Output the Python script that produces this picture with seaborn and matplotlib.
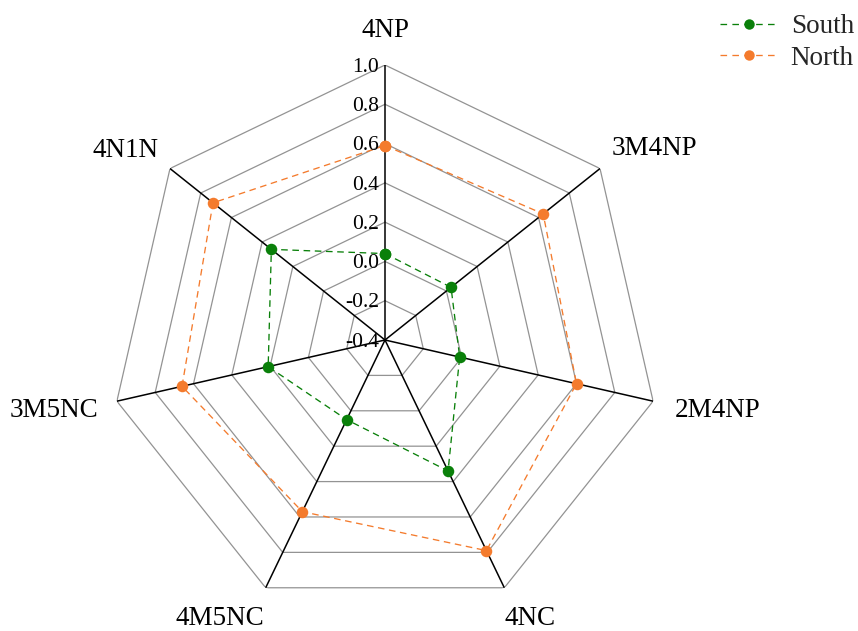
import numpy as np
import pandas as pd
import matplotlib
matplotlib.use("Agg")
import matplotlib.pyplot as plt
from matplotlib.lines import Line2D
import seaborn as sns

# Indicators around the radar, clockwise from the top
categories = ["4NP", "3M4NP", "2M4NP", "4NC", "4M5NC", "3M5NC", "4N1N"]
south = [0.04, 0.03, -0.01, 0.34, 0.05, 0.21, 0.34]
north = [0.59, 0.63, 0.60, 0.79, 0.57, 0.66, 0.72]
r_ticks = [-0.4, -0.2, 0.0, 0.2, 0.4, 0.6, 0.8, 1.0]
series_names = ["South", "North"]
colors = {"South": "#0a800a", "North": "#f47b2d"}

sns.set_theme(style="white")
plt.rcParams["font.family"] = ["Liberation Serif", "DejaVu Serif"]

n = len(categories)
angles = np.linspace(0, 2 * np.pi, n, endpoint=False)

fig = plt.figure(figsize=(8.58, 6.31), dpi=100)
ax = fig.add_axes([110 / 858, 16 / 631, 550 / 858, 550 / 631], projection="polar")
ax.set_theta_offset(np.pi / 2)
ax.set_theta_direction(-1)
ax.set_ylim(r_ticks[0], r_ticks[-1])
ax.grid(False)
ax.spines["polar"].set_visible(False)
ax.set_xticks([])
ax.set_yticks([])
ax.patch.set_alpha(0)

# polygonal grid rings
ring_theta = np.append(angles, angles[0])
for lvl in r_ticks[1:]:
    ax.plot(ring_theta, [lvl] * (n + 1), color="#939393", lw=0.9, zorder=1)

# spokes
for a in angles:
    ax.plot([a, a], [r_ticks[0], r_ticks[-1]], color="black", lw=1.1, zorder=2)

# data series, closed loops
rows = []
for name, vals in zip(series_names, [south, north]):
    for a, v in zip(list(angles) + [2 * np.pi], list(vals) + [vals[0]]):
        rows.append({"theta": a, "value": v, "region": name})
df = pd.DataFrame(rows)

for name in series_names:
    sub = df[df["region"] == name]
    sns.lineplot(data=sub, x="theta", y="value", ax=ax, sort=False, estimator=None,
                 color=colors[name], linestyle=(0, (5, 3.5)), lw=0.95,
                 marker="o", markersize=8.3, markeredgewidth=0, zorder=4)
ax.set_xlabel("")
ax.set_ylabel("")
ax.set_xticks([])
ax.set_yticks([])
ax.set_ylim(r_ticks[0], r_ticks[-1])

# radial tick labels along the top spoke
for v in r_ticks:
    ax.annotate(f"{v:.1f}", xy=(0, v), xytext=(-6, -6.7), textcoords="offset pixels",
                ha="right", va="baseline", fontsize=15.5, color="black", zorder=5)

# category labels placed beyond the outer vertices
label_offsets = [
    ((0, 28.3), "center"),
    ((11.7, 13.5), "left"),
    ((22, -15.7), "left"),
    ((26, -37), "center"),
    ((-46, -37), "center"),
    ((-18.7, -15.7), "right"),
    ((-11.7, 11.8), "right"),
]
for a, lab, (off, ha) in zip(angles, categories, label_offsets):
    ax.annotate(lab, xy=(a, r_ticks[-1]), xytext=off, textcoords="offset pixels",
                ha=ha, va="baseline", fontsize=19.5, color="black", annotation_clip=False)

handles = [Line2D([], [], color=colors[s], linestyle=(0, (5, 4)), lw=0.95,
                  marker="o", markersize=7.5, markeredgewidth=0) for s in series_names]
fig.legend(handles, series_names, loc="upper right", bbox_to_anchor=(1.0, 1.0 - 10 / 631),
           frameon=False, fontsize=19.5, handlelength=2.15, handletextpad=0.45,
           labelspacing=0.25, borderaxespad=0.0, borderpad=0.15, numpoints=1)

fig.savefig("out.png", dpi=100)
